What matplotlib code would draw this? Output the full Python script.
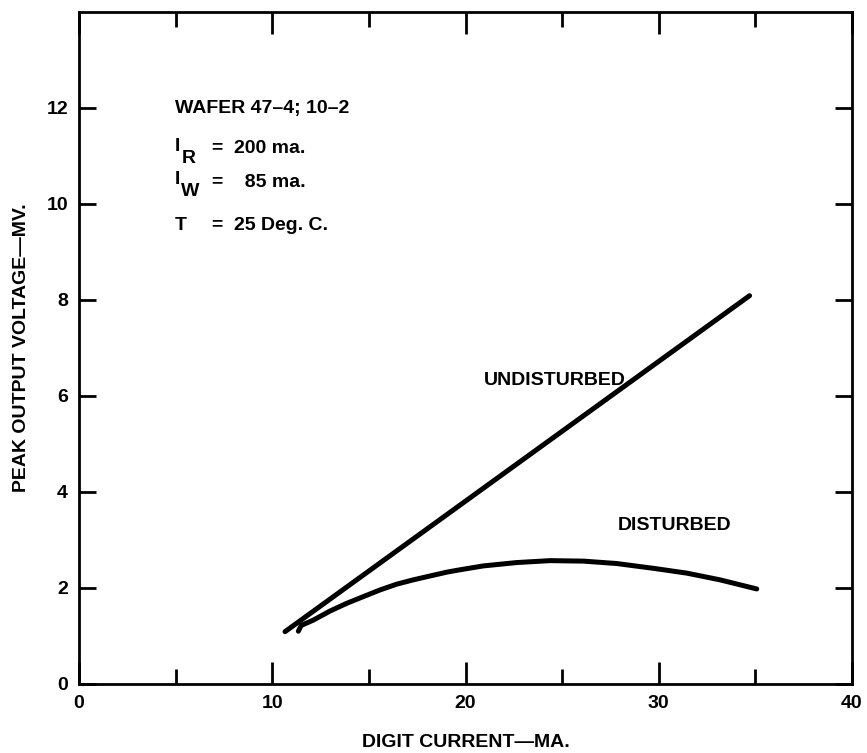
import matplotlib.pyplot as plt
from matplotlib.ticker import MultipleLocator

plt.rcParams['font.family'] = ['Liberation Sans', 'DejaVu Sans']
plt.rcParams['font.weight'] = 'bold'

# Undisturbed output: straight line between its end points
undisturbed_x = [10.66, 34.7]
undisturbed_y = [1.09, 8.09]

# Disturbed output: rises then rolls off past ~25 ma
disturbed_x = [11.35, 11.5, 12.12, 12.99, 13.85, 14.71, 15.58, 16.44, 17.3, 18.16,
               19.03, 19.72, 20.92, 22.65, 24.37, 26.1, 27.82, 29.72, 31.45, 33.17, 35.07]
disturbed_y = [1.1, 1.22, 1.33, 1.52, 1.68, 1.82, 1.96, 2.08, 2.17, 2.25,
               2.33, 2.38, 2.46, 2.53, 2.57, 2.56, 2.51, 2.41, 2.31, 2.17, 1.98]

x_ticks = [0, 10, 20, 30, 40]
y_ticks = [0, 2, 4, 6, 8, 10, 12]

fig = plt.figure(figsize=(8.67, 7.53), dpi=100)
ax = fig.add_axes([79 / 867, 69 / 753, 773 / 867, 672 / 753])

ax.plot(undisturbed_x, undisturbed_y, color='black', lw=3.6, solid_capstyle='round')
ax.plot(disturbed_x, disturbed_y, color='black', lw=3.6, solid_capstyle='round',
        solid_joinstyle='round')

ax.set_xlim(0, 40)
ax.set_ylim(0, 14)
ax.set_xticks(x_ticks)
ax.set_yticks(y_ticks)
ax.xaxis.set_minor_locator(MultipleLocator(5))
ax.tick_params(axis='both', which='both', direction='in', top=True, right=True,
               width=2, labelsize=14, pad=8)
ax.tick_params(axis='x', which='major', length=16)
ax.tick_params(axis='x', which='minor', length=11)
ax.tick_params(axis='y', which='major', length=12)
ax.tick_params(axis='y', which='minor', left=False, right=False)
for s in ax.spines.values():
    s.set_linewidth(2)

ax.set_xlabel('DIGIT CURRENT\u2014MA.', fontsize=14, fontweight='bold', labelpad=16)
ax.set_ylabel('PEAK OUTPUT VOLTAGE\u2014MV.', fontsize=14, fontweight='bold', labelpad=12)

# test conditions block
fs = 14
ax.text(4.95, 12, 'WAFER 47\u20134; 10\u20132', fontsize=fs, va='center')
ax.text(4.95, 11.2, 'I', fontsize=fs, va='center')
ax.text(5.3, 10.95, 'R', fontsize=fs, va='center')
ax.text(6.9, 11.15, '=  200 ma.', fontsize=fs, va='center')
ax.text(4.95, 10.5, 'I', fontsize=fs, va='center')
ax.text(5.3, 10.25, 'W', fontsize=fs, va='center')
ax.text(6.9, 10.45, '=    85 ma.', fontsize=fs, va='center')
ax.text(4.95, 9.55, 'T', fontsize=fs, va='center')
ax.text(6.9, 9.55, '=  25 Deg. C.', fontsize=fs, va='center')

ax.text(24.6, 6.32, 'UNDISTURBED', fontsize=fs, ha='center', va='center')
ax.text(30.8, 3.3, 'DISTURBED', fontsize=fs, ha='center', va='center')

fig.savefig('out.png', dpi=100)
